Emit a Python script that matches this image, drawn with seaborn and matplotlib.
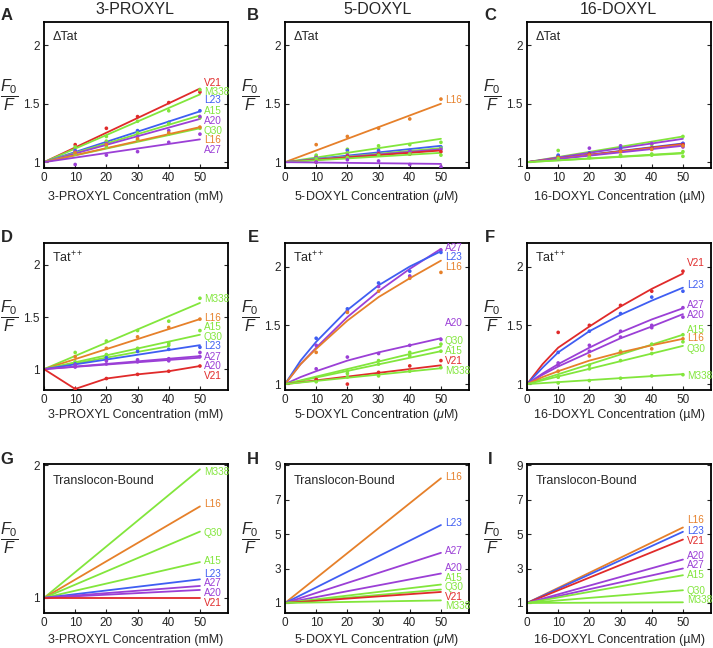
import pandas as pd
import seaborn as sns
import matplotlib.pyplot as plt

# concentrations where quenching was measured
CONC = [10, 20, 30, 40, 50]
# x grids for the fitted curves
LIN = [0, 50]
LIN40 = [0, 40]
STEP = [0, 10, 20, 30, 40, 50]
CURVE = [0, 5, 10, 20, 30, 40, 50]

COLORS = {'V21': '#e02a2a', 'M338': '#82e63c', 'L23': '#3f5ef2', 'A15': '#82e63c',
          'A20': '#9b3fd6', 'Q30': '#82e63c', 'L16': '#e6802a', 'A27': '#9b3fd6'}

# ---- A: 3-PROXYL, dTat
A_PTS = {'V21': [1.15, 1.29, 1.39, 1.51, 1.60], 'M338': [1.13, 1.22, 1.35, 1.44, 1.62],
         'L23': [1.10, 1.17, 1.27, 1.34, 1.44], 'A15': [1.08, 1.18, 1.25, 1.33, 1.38],
         'A20': [1.09, 1.16, 1.22, 1.27, 1.39], 'Q30': [1.07, 1.13, 1.19, 1.24, 1.29],
         'L16': [1.08, 1.15, 1.20, 1.25, 1.30], 'A27': [0.98, 1.06, 1.09, 1.17, 1.24]}
A_FIT = {'V21': (LIN, [1, 1.63]), 'M338': (LIN, [1, 1.58]), 'L23': (LIN, [1, 1.435]),
         'A15': (LIN, [1, 1.40]), 'A20': (LIN, [1, 1.37]), 'Q30': (LIN, [1, 1.29]),
         'L16': (LIN, [1, 1.30]), 'A27': (LIN, [1, 1.195])}
A_LAB = {'V21': 1.68, 'M338': 1.60, 'L23': 1.53, 'A15': 1.44, 'A20': 1.35,
         'Q30': 1.27, 'L16': 1.19, 'A27': 1.10}

# ---- B: 5-DOXYL, dTat
B_PTS = {'L16': [1.15, 1.22, 1.29, 1.37, 1.54], 'A15': [1.06, 1.11, 1.14, 1.15, 1.17],
         'L23': [1.04, 1.10, 1.10, 1.10, 1.13], 'M338': [1.05, 1.08, 1.07, 1.09, 1.12],
         'A20': [1.04, 1.06, 1.08, 1.09, 1.11], 'V21': [1.00, 1.05, 1.07, 1.07, 1.09],
         'Q30': [1.03, 1.04, 1.06, 1.07, 1.06], 'A27': [1.00, 1.02, 1.01, 0.98, 0.96]}
B_FIT = {'L16': (LIN, [1, 1.50]), 'A15': (LIN, [1, 1.20]), 'L23': (LIN, [1, 1.14]),
         'M338': (LIN, [1, 1.12]), 'A20': (LIN, [1, 1.11]), 'V21': (LIN, [1, 1.10]),
         'Q30': (LIN, [1, 1.08]), 'A27': (LIN, [1, 0.985])}
B_LAB = {'L16': 1.53}

# ---- C: 16-DOXYL, dTat
C_PTS = {'A15': [1.05, 1.07, 1.12, 1.15, 1.22], 'A27': [1.05, 1.12, 1.14, 1.16, 1.16],
         'L23': [1.06, 1.08, 1.12, 1.12, 1.16], 'V21': [1.04, 1.07, 1.10, 1.12, 1.15],
         'A20': [1.03, 1.06, 1.10, 1.11, 1.13], 'L16': [1.04, 1.06, 1.09, 1.11, 1.14],
         'Q30': [1.10, 1.04, 1.06, 1.07, 1.09], 'M338': [1.03, 1.04, 1.05, 1.06, 1.05]}
C_FIT = {'A15': (LIN, [1, 1.22]), 'A27': (LIN, [1, 1.20]), 'L23': (LIN, [1, 1.16]),
         'V21': (LIN, [1, 1.155]), 'L16': (LIN, [1, 1.15]), 'A20': (LIN, [1, 1.14]),
         'Q30': (LIN, [1, 1.08]), 'M338': (LIN, [1, 1.075])}
C_LAB = {}

# ---- D: 3-PROXYL, Tat++
D_PTS = {'M338': [1.16, 1.27, 1.37, 1.46, 1.68], 'L16': [1.12, 1.20, 1.31, 1.40, 1.48],
         'A15': [1.07, 1.14, 1.20, 1.25, 1.37], 'Q30': [1.06, 1.13, 1.19, 1.23],
         'L23': [1.05, 1.11, 1.17, 1.19, 1.21], 'A27': [1.04, 1.08, 1.09, 1.10, 1.16],
         'A20': [1.02, 1.05, 1.07, 1.08, 1.12], 'V21': [0.81, 0.91, 0.95, 0.98, 1.03]}
D_FIT = {'M338': (LIN, [1, 1.635]), 'L16': (LIN, [1, 1.48]), 'A15': (LIN, [1, 1.33]),
         'Q30': (LIN40, [1, 1.22]), 'L23': (LIN, [1, 1.23]), 'A27': (LIN, [1, 1.125]),
         'A20': (LIN, [1, 1.11]), 'V21': (STEP, [1, 0.81, 0.91, 0.95, 0.98, 1.03])}
D_LAB = {'M338': 1.67, 'L16': 1.49, 'A15': 1.40, 'Q30': 1.31, 'L23': 1.22,
         'A27': 1.12, 'A20': 1.03, 'V21': 0.93}

# ---- E: 5-DOXYL, Tat++
E_PTS = {'A27': [1.33, 1.62, 1.83, 1.92, 2.14], 'L23': [1.39, 1.64, 1.86, 1.96, 2.12],
         'L16': [1.27, 1.61, 1.79, 1.90, 1.95], 'A20': [1.13, 1.23, 1.26, 1.33, 1.38],
         'Q30': [1.04, 1.11, 1.20, 1.27, 1.34], 'A15': [1.03, 1.09, 1.17, 1.24, 1.28],
         'V21': [1.04, 1.00, 1.10, 1.155, 1.20], 'M338': [1.02, 1.06, 1.07, 1.11, 1.14]}
E_FIT = {'A27': (CURVE, [1, 1.17, 1.31, 1.57, 1.79, 1.98, 2.15]),
         'L23': (CURVE, [1, 1.20, 1.36, 1.63, 1.84, 2.00, 2.13]),
         'L16': (CURVE, [1, 1.17, 1.30, 1.54, 1.74, 1.90, 2.05]),
         'A20': (CURVE, [1, 1.06, 1.11, 1.20, 1.27, 1.33, 1.39]),
         'Q30': (LIN, [1, 1.32]), 'A15': (LIN, [1, 1.28]),
         'V21': (LIN, [1, 1.16]), 'M338': (LIN, [1, 1.135])}
E_LAB = {'A27': 2.16, 'L23': 2.08, 'L16': 2.00, 'A20': 1.52, 'Q30': 1.37,
         'A15': 1.28, 'V21': 1.20, 'M338': 1.11}

# ---- F: 16-DOXYL, Tat++
F_PTS = {'V21': [1.44, 1.50, 1.67, 1.79, 1.96], 'L23': [1.27, 1.45, 1.60, 1.74, 1.79],
         'A27': [1.18, 1.33, 1.45, 1.50, 1.65], 'A20': [1.16, 1.28, 1.40, 1.48, 1.57],
         'A15': [1.06, 1.16, 1.28, 1.34, 1.42], 'L16': [1.11, 1.24, 1.27, 1.30, 1.385],
         'Q30': [1.06, 1.13, 1.20, 1.26, 1.36], 'M338': [1.01, 1.03, 1.05, 1.07, 1.08]}
F_FIT = {'V21': (CURVE, [1, 1.17, 1.31, 1.49, 1.66, 1.81, 1.94]),
         'L23': (CURVE, [1, 1.14, 1.27, 1.45, 1.59, 1.71, 1.82]),
         'A27': (CURVE, [1, 1.09, 1.17, 1.31, 1.44, 1.55, 1.645]),
         'A20': (CURVE, [1, 1.08, 1.15, 1.27, 1.39, 1.49, 1.595]),
         'A15': (LIN, [1, 1.42]),
         'L16': (CURVE, [1, 1.06, 1.11, 1.20, 1.27, 1.33, 1.385]),
         'Q30': (LIN, [1, 1.325]), 'M338': (LIN, [1, 1.085])}
F_LAB = {'V21': 2.03, 'L23': 1.84, 'A27': 1.67, 'A20': 1.59, 'A15': 1.46,
         'L16': 1.39, 'Q30': 1.30, 'M338': 1.07}

# ---- G, H, I: translocon-bound (fits only)
G_FIT = {'M338': (LIN, [1, 1.97]), 'L16': (LIN, [1, 1.69]), 'Q30': (LIN, [1, 1.50]),
         'A15': (LIN, [1, 1.27]), 'L23': (LIN, [1, 1.14]), 'A27': (LIN, [1, 1.09]),
         'A20': (LIN, [1, 1.06]), 'V21': (LIN, [1, 1.00])}
G_LAB = {'M338': 1.95, 'L16': 1.71, 'Q30': 1.49, 'A15': 1.28, 'L23': 1.18,
         'A27': 1.11, 'A20': 1.035, 'V21': 0.965}
H_FIT = {'L16': (LIN, [1, 8.23]), 'L23': (LIN, [1, 5.52]), 'A27': (LIN, [1, 3.91]),
         'A20': (LIN, [1, 2.71]), 'A15': (LIN, [1, 2.07]), 'Q30': (LIN, [1, 1.78]),
         'V21': (LIN, [1, 1.64]), 'M338': (LIN, [1, 1.15])}
H_LAB = {'L16': 8.33, 'L23': 5.61, 'A27': 4.0, 'A20': 3.05, 'A15': 2.47,
         'Q30': 1.93, 'V21': 1.35, 'M338': 0.81}
I_FIT = {'L16': (LIN, [1, 5.38]), 'L23': (LIN, [1, 5.13]), 'V21': (LIN, [1, 4.68]),
         'A20': (LIN, [1, 3.52]), 'A27': (LIN, [1, 3.0]), 'A15': (LIN, [1, 2.61]),
         'Q30': (LIN, [1, 1.74]), 'M338': (LIN, [1, 1.04])}
I_LAB = {'L16': 5.81, 'L23': 5.19, 'V21': 4.6, 'A20': 3.71, 'A27': 3.19,
         'A15': 2.65, 'Q30': 1.70, 'M338': 1.16}

XLABELS = ['3-PROXYL Concentration (mM)', '5-DOXYL Concentration ($\\mu$M)',
           '16-DOXYL Concentration (\u00b5M)']
TITLES = ['3-PROXYL', '5-DOXYL', '16-DOXYL']
TAGS = ['\u0394Tat', 'Tat$^{++}$', 'Translocon-Bound']

sns.set_style("ticks")
plt.rcParams['font.family'] = ['Liberation Sans', 'DejaVu Sans']
plt.rcParams['mathtext.fontset'] = 'custom'
plt.rcParams['mathtext.rm'] = 'Liberation Sans'
plt.rcParams['mathtext.it'] = 'Liberation Sans:italic'
plt.rcParams['mathtext.bf'] = 'Liberation Sans:bold'

W, H = 713, 648
fig = plt.figure(figsize=(W / 100, H / 100), dpi=100)

lefts = [44, 285, 527]
rows = [(22, 168), (243, 390), (464, 613)]
xlab_gap = [29, 25, 27]   # px from axes bottom to x-label centre


def panel(ax, fits, pts, labels):
    rows_ = []
    for res, (xs, ys) in fits.items():
        for x, y in zip(xs, ys):
            rows_.append({'res': res, 'c': x, 'r': y})
    fdf = pd.DataFrame(rows_)
    sns.lineplot(data=fdf, x='c', y='r', hue='res', palette=COLORS, estimator=None,
                 sort=False, legend=False, lw=1.3, ax=ax)
    if pts:
        prow = []
        for res, ys in pts.items():
            for x, y in zip(CONC, ys):
                prow.append({'res': res, 'c': x, 'r': y})
        pdf = pd.DataFrame(prow)
        sns.scatterplot(data=pdf, x='c', y='r', hue='res', palette=COLORS, s=7,
                        linewidth=0, legend=False, ax=ax, zorder=3)
    for res, y in labels.items():
        ax.text(51.2, y, res, color=COLORS[res], fontsize=7.2, ha='left', va='center',
                clip_on=False)


panels = [
    (A_FIT, A_PTS, A_LAB), (B_FIT, B_PTS, B_LAB), (C_FIT, C_PTS, C_LAB),
    (D_FIT, D_PTS, D_LAB), (E_FIT, E_PTS, E_LAB), (F_FIT, F_PTS, F_LAB),
    (G_FIT, None, G_LAB), (H_FIT, None, H_LAB), (I_FIT, None, I_LAB),
]
ylims = [(0.95, 2.2), (0.95, 2.2), (0.95, 2.2),
         (0.8, 2.21), (0.95, 2.2), (0.95, 2.2),
         (0.886, 2.01), (0.42, 9.06), (0.42, 9.06)]
yticks = [[1, 1.5, 2]] * 6 + [[1, 2], [1, 3, 5, 7, 9], [1, 3, 5, 7, 9]]
ytl = [['1', '1.5', '2']] * 6 + [['1', '2'], ['1', '3', '5', '7', '9'], ['1', '3', '5', '7', '9']]
letters = 'ABCDEFGHI'

for i, (fits, pts, labels) in enumerate(panels):
    r, c = divmod(i, 3)
    top, bot = rows[r]
    h = bot - top
    ax = fig.add_axes([lefts[c] / W, 1 - bot / H, 184 / W, h / H])
    panel(ax, fits, pts, labels)
    ax.set_xlim(0, 59)
    ax.set_ylim(*ylims[i])
    ax.set_xticks([0, 10, 20, 30, 40, 50])
    ax.set_yticks(yticks[i])
    ax.set_yticklabels(ytl[i])
    ax.tick_params(direction='in', right=True, top=False, labelsize=8.5, length=3,
                   width=0.8, pad=3)
    for s in ax.spines.values():
        s.set_visible(True)
        s.set_linewidth(1.3)
        s.set_color('black')
    ax.set_xlabel(XLABELS[c], fontsize=9)
    ax.xaxis.set_label_coords(0.5, -xlab_gap[r] / h)
    ax.xaxis.label.set_va('center')
    ax.set_ylabel(r'$\dfrac{\mathit{F_0}}{\mathit{F}}$', fontsize=11.5, rotation=0,
                  va='center', ha='center')
    ax.yaxis.set_label_coords(-0.19, 0.5)
    ax.text(0.045, 0.9 if r < 2 else 0.885, TAGS[r], transform=ax.transAxes,
            fontsize=9, ha='left', va='center')
    lx = [7, 253, 490][c]
    ly = [15, 237, 460][r]
    fig.text(lx / W, 1 - ly / H, letters[i], fontsize=12, fontweight='bold',
             ha='center', va='center')

for c, t in enumerate(TITLES):
    fig.text([135, 378, 618][c] / W, 1 - 9 / H, t, fontsize=11.5, ha='center', va='center')

fig.savefig('out.png', dpi=100)
